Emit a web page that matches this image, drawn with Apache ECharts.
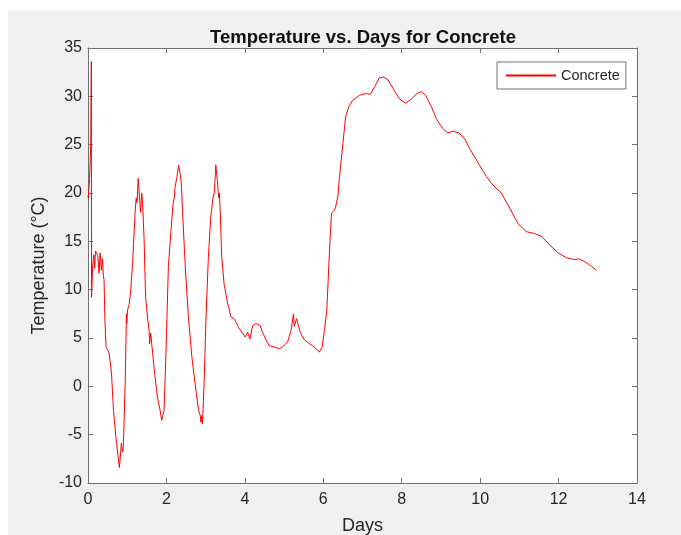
<!DOCTYPE html>
<html>
<head>
<meta charset="utf-8">
<script src="https://cdn.jsdelivr.net/npm/echarts@6/dist/echarts.min.js"></script>
<style>
html,body{margin:0;padding:0;background:#fff;}
#wrap{position:relative;width:681px;height:535px;overflow:hidden;background:#fff;}
#fig{position:absolute;left:8px;top:10px;right:0;bottom:0;background:#f0f0f0;}
#chart{position:absolute;left:0;top:0;width:681px;height:535px;}
</style>
</head>
<body>
<div id="wrap"><div id="fig"></div><div id="chart"></div></div>
<script>
const titleText = 'Temperature vs. Days for Concrete';
const xName = 'Days';
const yName = 'Temperature (°C)';
const seriesName = 'Concrete';
const xTicks = [0, 2, 4, 6, 8, 10, 12, 14];
const yTicks = [-10, -5, 0, 5, 10, 15, 20, 25, 30, 35];

const days = [
  0.00, 0.01, 0.03, 0.04, 0.07, 0.085, 0.09, 0.12, 0.15, 0.17, 0.19, 0.22, 0.25, 0.28, 0.31, 0.34, 0.37, 0.39, 0.41, 0.43,
  0.46, 0.50, 0.54, 0.60, 0.65, 0.71, 0.75, 0.80, 0.83, 0.85, 0.88, 0.90, 0.95, 0.98, 0.99, 1.01, 1.05, 1.09, 1.14, 1.18,
  1.20, 1.23, 1.25, 1.28, 1.31, 1.34, 1.37, 1.39, 1.43, 1.45, 1.47, 1.52, 1.56, 1.57, 1.60, 1.69, 1.77, 1.84, 1.88, 1.90,
  1.94, 1.99, 2.05, 2.11, 2.17, 2.20, 2.22, 2.27, 2.31, 2.35, 2.38, 2.41, 2.48, 2.56, 2.65, 2.73, 2.82, 2.86, 2.88, 2.90,
  2.92, 2.96, 3.01, 3.07, 3.13, 3.19, 3.22, 3.26, 3.28, 3.30, 3.33, 3.35, 3.37, 3.41, 3.47, 3.56, 3.60, 3.64, 3.73, 3.84,
  3.94, 4.01, 4.07, 4.13, 4.20, 4.28, 4.33, 4.39, 4.45, 4.54, 4.62, 4.75, 4.88, 4.96, 5.09, 5.18, 5.24, 5.26, 5.28, 5.32,
  5.35, 5.41, 5.52, 5.65, 5.77, 5.90, 5.97, 6.03, 6.09, 6.14, 6.18, 6.21, 6.28, 6.31, 6.37, 6.41, 6.50, 6.57, 6.65, 6.75,
  6.92, 7.10, 7.14, 7.20, 7.31, 7.43, 7.54, 7.65, 7.78, 7.95, 8.10, 8.24, 8.39, 8.50, 8.61, 8.76, 8.88, 9.04, 9.18, 9.31,
  9.46, 9.61, 9.73, 9.95, 10.16, 10.33, 10.54, 10.76, 10.97, 11.18, 11.39, 11.57, 11.78, 11.99, 12.20, 12.42, 12.50, 12.54, 12.67, 12.84,
  12.97
];
const temps = [
  19.8, 19.5, 20.8, 21.5, 25.0, 33.6, 9.2, 12.5, 13.6, 12.2, 14.0, 14.2, 13.5, 11.7, 13.8, 12.0, 13.2, 11.5, 11.0, 7.0,
  4.1, 3.8, 3.4, 1.3, -2.5, -5.2, -6.6, -8.4, -7.0, -5.9, -6.8, -6.3, 0.6, 7.5, 6.5, 7.9, 8.5, 9.9, 13.0, 16.2,
  18.0, 19.5, 19.0, 21.5, 21.5, 18.0, 20.0, 19.1, 15.3, 12.0, 9.25, 7.0, 5.8, 4.4, 5.5, 1.66, -1.1, -2.5, -3.5, -3.7,
  -2.5, 3.7, 12.4, 15.8, 18.9, 19.5, 20.6, 21.7, 22.9, 22.0, 21.0, 18.2, 12.4, 7.2, 3.0, 0.3, -2.5, -3.0, -3.7, -3.0,
  -3.9, 0.3, 7.2, 13.4, 17.5, 19.6, 20.0, 22.9, 22.0, 21.3, 19.5, 20.0, 18.2, 13.4, 10.6, 8.6, 8.0, 7.2, 7.0, 6.1,
  5.5, 5.1, 5.6, 4.9, 6.3, 6.5, 6.3, 6.3, 5.6, 4.8, 4.2, 4.07, 3.9, 4.07, 4.6, 5.8, 7.5, 6.2, 6.1, 7.0,
  6.8, 5.6, 4.8, 4.4, 4.07, 3.55, 4.07, 5.8, 7.9, 12.4, 15.8, 17.9, 18.2, 18.5, 19.6, 21.5, 25.1, 27.9, 28.9, 29.6,
  30.1, 30.3, 30.5, 30.2, 31.0, 31.9, 32.0, 31.7, 30.8, 29.7, 29.3, 29.7, 30.3, 30.5, 30.1, 28.9, 27.7, 26.7, 26.2, 26.4,
  26.2, 25.6, 24.6, 23.1, 21.7, 20.8, 20.0, 18.4, 16.8, 16.0, 15.8, 15.5, 14.6, 13.8, 13.3, 13.1, 13.2, 13.2, 12.9, 12.4,
  12.0
];

const points = days.map((d, i) => [d, temps[i]]);
const FONT = '"Liberation Sans", Arial, Helvetica, sans-serif';
const AX = '#707070';
const TXT = '#262626';
const RED = '#ff0000';

const chart = echarts.init(document.getElementById('chart'), null, {renderer: 'canvas'});
const xBase = {
  type: 'value', min: xTicks[0], max: xTicks[xTicks.length - 1], interval: xTicks[1] - xTicks[0],
  splitLine: {show: false},
  axisLine: {show: true, onZero: false, lineStyle: {color: AX, width: 1}},
  axisTick: {show: true, inside: true, length: 5, lineStyle: {color: AX}}
};
const yBase = {
  type: 'value', min: yTicks[0], max: yTicks[yTicks.length - 1], interval: yTicks[1] - yTicks[0],
  splitLine: {show: false},
  axisLine: {show: true, onZero: false, lineStyle: {color: AX, width: 1}},
  axisTick: {show: true, inside: true, length: 5, lineStyle: {color: AX}}
};

chart.setOption({
  backgroundColor: 'transparent',
  animation: false,
  color: [RED],
  title: {
    text: titleText, left: 358, top: 23, textAlign: 'center',
    textStyle: {fontFamily: FONT, fontWeight: 'bold', fontSize: 18.5, color: '#111'}
  },
  legend: {
    data: [seriesName],
    left: 497, top: 62,
    orient: 'vertical',
    backgroundColor: '#fff', borderColor: AX, borderWidth: 1, borderRadius: 0,
    padding: [6, 6, 6, 8],
    itemWidth: 50, itemHeight: 13, itemGap: 5,
    itemStyle: {color: 'rgba(255,0,0,0)', borderColor: 'rgba(255,0,0,0)', borderWidth: 0},
    textStyle: {fontFamily: FONT, fontSize: 14.5, color: TXT}
  },
  grid: {
    left: 88, right: 44, top: 48, bottom: 52,
    outerBoundsMode: 'none', containLabel: false,
    show: true, backgroundColor: '#fff', borderWidth: 0
  },
  xAxis: [
    Object.assign({}, xBase, {
      position: 'bottom', name: xName, nameLocation: 'middle', nameGap: 34,
      nameTextStyle: {fontFamily: FONT, fontSize: 18, color: TXT},
      axisLabel: {fontFamily: FONT, fontSize: 16, color: TXT, margin: 9}
    }),
    Object.assign({}, xBase, {position: 'top', axisLabel: {show: false}})
  ],
  yAxis: [
    Object.assign({}, yBase, {
      position: 'left', name: yName, nameLocation: 'middle', nameGap: 38, nameRotate: 90,
      nameTextStyle: {fontFamily: FONT, fontSize: 18, color: TXT},
      axisLabel: {fontFamily: FONT, fontSize: 16, color: TXT, margin: 6}
    }),
    Object.assign({}, yBase, {position: 'right', axisLabel: {show: false}})
  ],
  series: [{
    name: seriesName, type: 'line', data: points,
    xAxisIndex: 0, yAxisIndex: 0,
    symbol: 'none', smooth: false, color: RED,
    lineStyle: {color: RED, width: 1},
    itemStyle: {color: RED}
  }]
});
</script>
</body>
</html>
